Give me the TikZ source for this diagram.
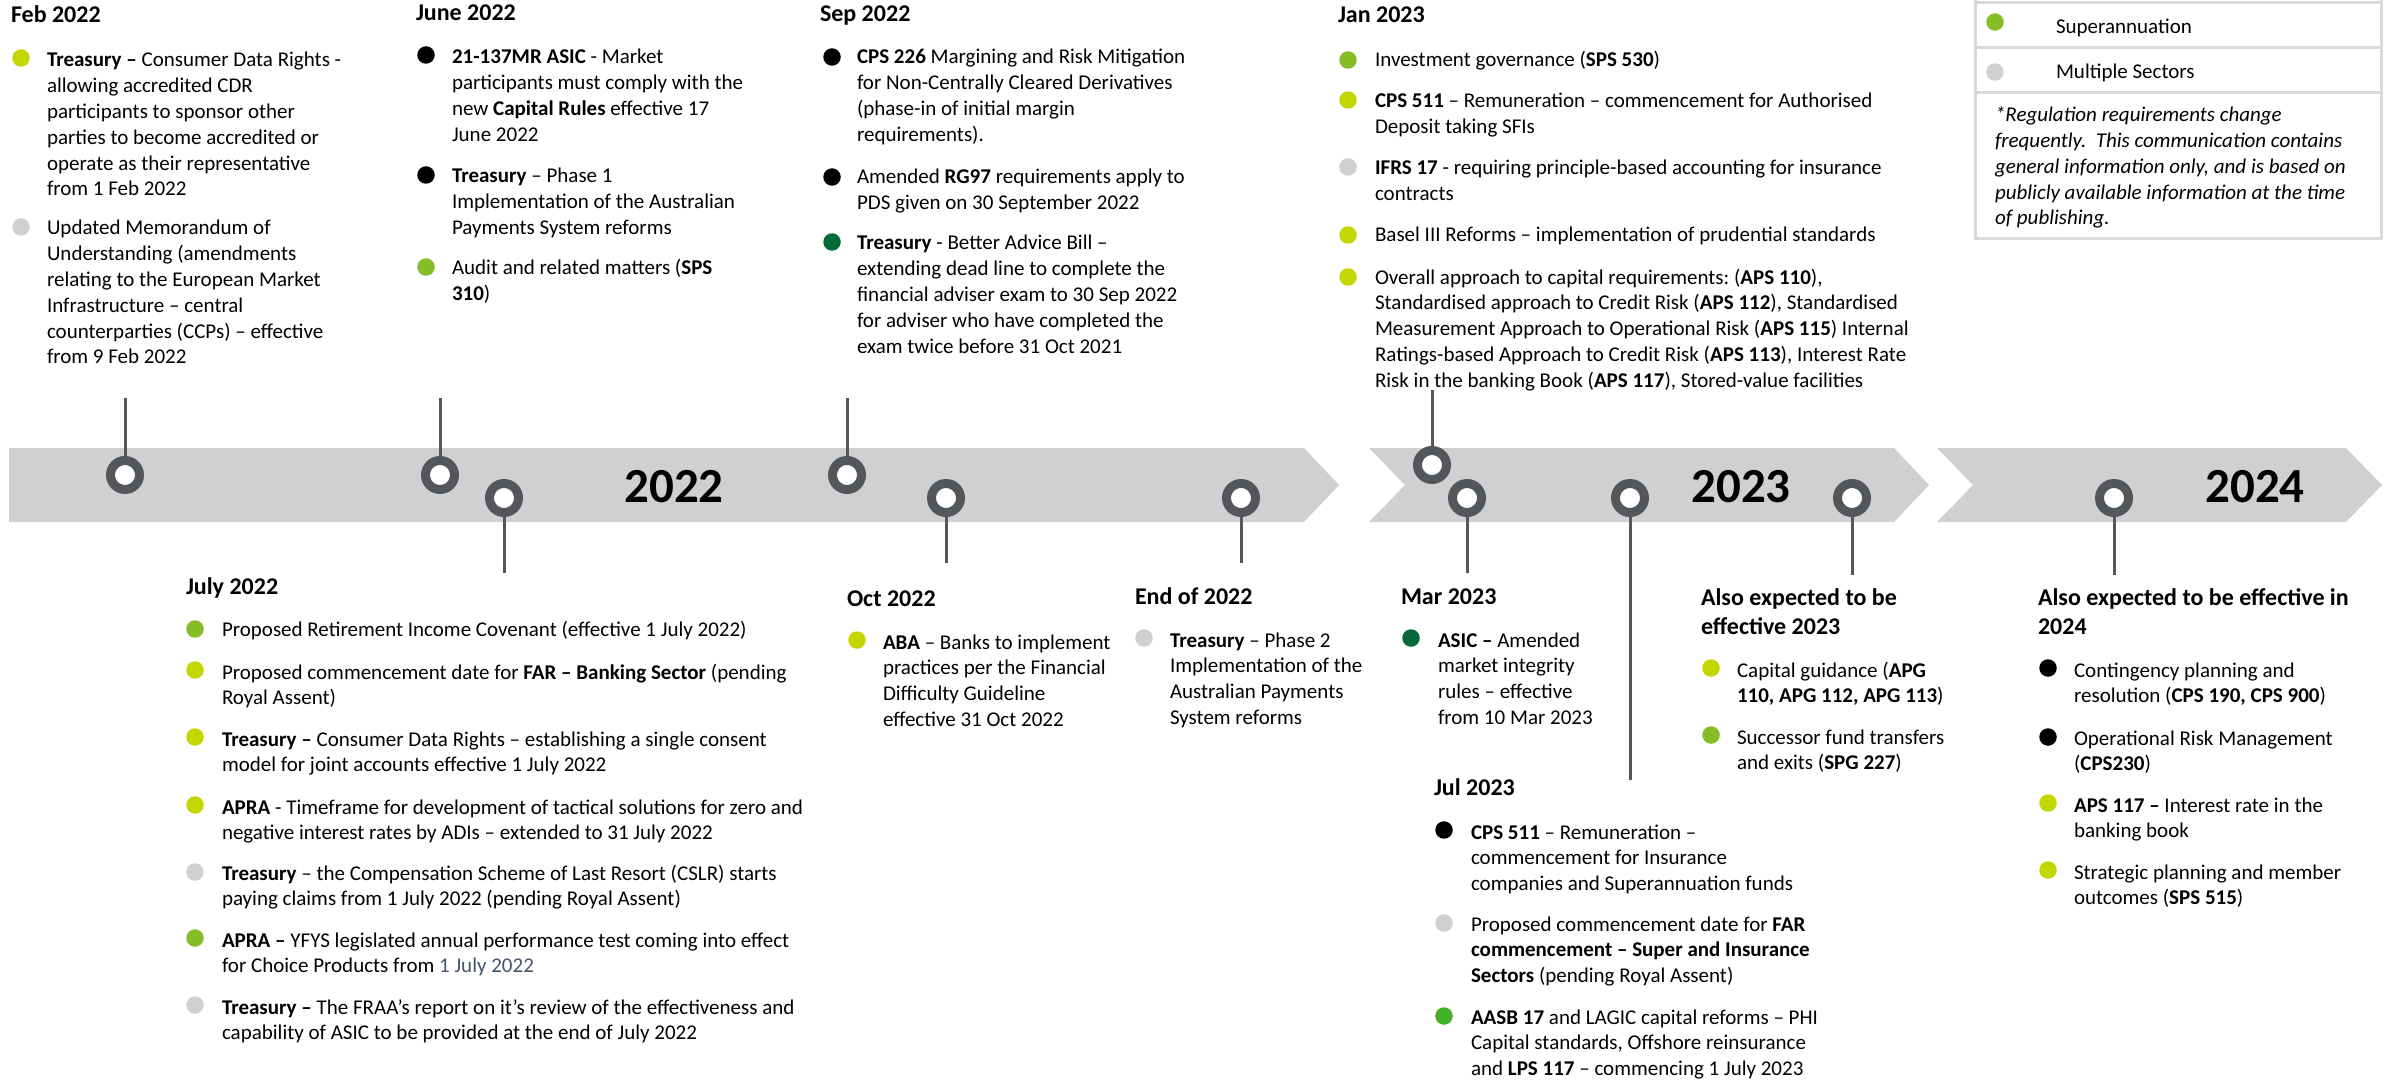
\documentclass[tikz,border=0pt]{standalone}
\usepackage{fontspec}
\setmainfont{Carlito}
\frenchspacing
\definecolor{cBank}{HTML}{C4D600}
\definecolor{cSuper}{HTML}{86BC25}
\definecolor{cMulti}{HTML}{D0D0D0}
\definecolor{cDark}{HTML}{046A38}
\definecolor{cAasb}{HTML}{43B02A}
\definecolor{cBlue}{HTML}{44546A}
\definecolor{cBand}{HTML}{D0D0D0}
\definecolor{cRing}{HTML}{53565A}
\definecolor{cLeg}{HTML}{D9D9D9}
\newcommand\blk[1]{\parbox[t]{900pt}{\raggedright\fontsize{21}{25.8}\selectfont #1}}
\newcommand\ttl[1]{\parbox[t]{900pt}{\raggedright\fontsize{24}{29}\selectfont\bfseries #1}}
\newcommand\ital[1]{\parbox[t]{900pt}{\raggedright\fontsize{21}{25.7}\selectfont\itshape #1}}
\begin{document}
\begin{tikzpicture}[x=1pt,y=-1pt,
  txt/.style={anchor=base west, inner sep=0pt, outer sep=0pt},
  yr/.style={inner sep=0pt, font=\fontsize{49}{55}\selectfont\bfseries},
  dotb/.style={circle, inner sep=0pt, minimum size=17.5pt, fill=#1},
  ring/.style={circle, draw=cRing, line width=9pt, fill=white, minimum size=29pt, inner sep=0pt},
  stem/.style={draw=cRing, line width=3pt},
  band/.style={fill=cBand},
  legline/.style={draw=cLeg, line width=3pt}]
\useasboundingbox (0,0) rectangle (2384,1083);
\clip (0,0) rectangle (2384,1083);
\fill[white] (0,0) rectangle (2384,1083);

% timeline bands
\fill[band] (9,448) -- (1304,448) -- (1339,485) -- (1304,522) -- (9,522) -- cycle;
\fill[band] (1369,448) -- (1894,448) -- (1929,485) -- (1894,522) -- (1369,522) -- (1405,485) -- cycle;
\fill[band] (1937,448) -- (2346,448) -- (2382,485) -- (2346,522) -- (1937,522) -- (1973,485) -- cycle;

% year labels
\node[yr] (y22) at (674,487) {2022};
\node[yr] (y23) at (1741,487) {2023};
\node[yr] (y24) at (2255,487) {2024};

% markers
\node[ring] (c1) at (125,475) {};
\node[ring] (c2) at (440,475) {};
\node[ring] (c3) at (504,498) {};
\node[ring] (c4) at (847,475) {};
\node[ring] (c5) at (946,498) {};
\node[ring] (c6) at (1241,498) {};
\node[ring] (c7) at (1432,465) {};
\node[ring] (c8) at (1467,498) {};
\node[ring] (c9) at (1630,498) {};
\node[ring] (c10) at (1852,498) {};
\node[ring] (c11) at (2114,498) {};
\coordinate (e1) at (125,398);
\coordinate (e2) at (440,398);
\coordinate (e3) at (504,573);
\coordinate (e4) at (847,398);
\coordinate (e5) at (946,563);
\coordinate (e6) at (1241,563);
\coordinate (e7) at (1432,390);
\coordinate (e8) at (1467,573);
\coordinate (e9) at (1630,780);
\coordinate (e10) at (1852,575);
\coordinate (e11) at (2114,575);
\foreach \i in {1,...,11} {\draw[stem] (c\i) -- (e\i);}

% Feb 2022
\node[txt] (febT) at (11,23) {\ttl{Feb 2022}};
\node[dotb=cBank] (febD1) at (21,58) {};
\node[txt] (febX1) at (47,67) {\blk{\textbf{Treasury –} Consumer Data Rights -\\allowing accredited CDR\\participants to sponsor other\\parties to become accredited or\\operate as their representative\\from 1 Feb 2022}};
\node[dotb=cMulti] (febD2) at (21,227) {};
\node[txt] (febX2) at (47,235) {\blk{Updated Memorandum of\\Understanding (amendments\\relating to the European Market\\Infrastructure – central\\counterparties (CCPs) – effective\\from 9 Feb 2022}};

% June 2022
\node[txt] (junT) at (416,21) {\ttl{June 2022}};
\node[dotb=black] (junD1) at (426,55) {};
\node[txt] (junX1) at (452,64) {\blk{\textbf{21-137MR ASIC} - Market\\participants must comply with the\\new \textbf{Capital Rules} effective 17\\June 2022}};
\node[dotb=black] (junD2) at (426,175) {};
\node[txt] (junX2) at (452,183) {\blk{\textbf{Treasury} – Phase 1\\Implementation of the Australian\\Payments System reforms}};
\node[dotb=cSuper] (junD3) at (426,267) {};
\node[txt] (junX3) at (452,275) {\blk{Audit and related matters (\textbf{SPS}\\\textbf{310})}};

% Sep 2022
\node[txt] (sepT) at (820,22) {\ttl{Sep 2022}};
\node[dotb=black] (sepD1) at (832,57) {};
\node[txt] (sepX1) at (857,64) {\blk{\textbf{CPS 226} Margining and Risk Mitigation\\for Non-Centrally Cleared Derivatives\\(phase-in of initial margin\\requirements).}};
\node[dotb=black] (sepD2) at (832,177) {};
\node[txt] (sepX2) at (857,184) {\blk{Amended \textbf{RG97} requirements apply to\\PDS given on 30 September 2022}};
\node[dotb=cDark] (sepD3) at (832,242) {};
\node[txt] (sepX3) at (857,250) {\blk{\textbf{Treasury} - Better Advice Bill –\\extending dead line to complete the\\financial adviser exam to 30 Sep 2022\\for adviser who have completed the\\exam twice before 31 Oct 2021}};

% Jan 2023
\node[txt] (janT) at (1338,23) {\ttl{Jan 2023}};
\node[dotb=cSuper] (janD1) at (1348,60) {};
\node[txt] (janX1) at (1375,67) {\blk{Investment governance (\textbf{SPS 530})}};
\node[dotb=cBank] (janD2) at (1348,100) {};
\node[txt] (janX2) at (1375,108) {\blk{\textbf{CPS 511} – Remuneration – commencement for Authorised\\Deposit taking SFIs}};
\node[dotb=cMulti] (janD3) at (1348,167) {};
\node[txt] (janX3) at (1375,175) {\blk{\textbf{IFRS 17} - requiring principle-based accounting for insurance\\contracts}};
\node[dotb=cBank] (janD4) at (1348,235) {};
\node[txt] (janX4) at (1375,242) {\blk{Basel III Reforms – implementation of prudential standards}};
\node[dotb=cBank] (janD5) at (1348,277) {};
\node[txt] (janX5) at (1375,284) {\blk{Overall approach to capital requirements: (\textbf{APS 110}),\\Standardised approach to Credit Risk (\textbf{APS 112}), Standardised\\Measurement Approach to Operational Risk (\textbf{APS 115}) Internal\\Ratings-based Approach to Credit Risk (\textbf{APS 113}), Interest Rate\\Risk in the banking Book (\textbf{APS 117}), Stored-value facilities}};

% July 2022
\node[txt] (julT) at (186,594) {\ttl{July 2022}};
\node[dotb=cSuper] (julD1) at (195,629) {};
\node[txt] (julX1) at (222,636) {\blk{Proposed Retirement Income Covenant (effective 1 July 2022)}};
\node[dotb=cBank] (julD2) at (195,670) {};
\node[txt] (julX2) at (222,679) {\blk{Proposed commencement date for \textbf{FAR – Banking Sector} (pending\\Royal Assent)}};
\node[dotb=cBank] (julD3) at (195,737) {};
\node[txt] (julX3) at (222,746) {\blk{\textbf{Treasury –} Consumer Data Rights – establishing a single consent\\model for joint accounts effective 1 July 2022}};
\node[dotb=cBank] (julD4) at (195,805) {};
\node[txt] (julX4) at (222,814) {\blk{\textbf{APRA} - Timeframe for development of tactical solutions for zero and\\negative interest rates by ADIs – extended to 31 July 2022}};
\node[dotb=cMulti] (julD5) at (195,872) {};
\node[txt] (julX5) at (222,880) {\blk{\textbf{Treasury} – the Compensation Scheme of Last Resort (CSLR) starts\\paying claims from 1 July 2022 (pending Royal Assent)}};
\node[dotb=cSuper] (julD6) at (195,938) {};
\node[txt] (julX6) at (222,947) {\blk{\textbf{APRA –} YFYS legislated annual performance test coming into effect\\for Choice Products from \textcolor{cBlue}{1 July 2022}}};
\node[dotb=cMulti] (julD7) at (195,1005) {};
\node[txt] (julX7) at (222,1014) {\blk{\textbf{Treasury –} The FRAA’s report on it’s review of the effectiveness and\\capability of ASIC to be provided at the end of July 2022}};

% Oct 2022
\node[txt] (octT) at (847,606) {\ttl{Oct 2022}};
\node[dotb=cBank] (octD1) at (857,640) {};
\node[txt] (octX1) at (883,649) {\blk{\textbf{ABA} – Banks to implement\\practices per the Financial\\Difficulty Guideline\\effective 31 Oct 2022}};

% End of 2022
\node[txt] (endT) at (1135,604) {\ttl{End of 2022}};
\node[dotb=cMulti] (endD1) at (1144,638) {};
\node[txt] (endX1) at (1170,647) {\blk{\textbf{Treasury} – Phase 2\\Implementation of the\\Australian Payments\\System reforms}};

% Mar 2023
\node[txt] (marT) at (1401,604) {\ttl{Mar 2023}};
\node[dotb=cDark] (marD1) at (1411,638) {};
\node[txt] (marX1) at (1438,647) {\blk{\textbf{ASIC –} Amended\\market integrity\\rules – effective\\from 10 Mar 2023}};

% Jul 2023
\node[txt] (jlT) at (1434,795) {\ttl{Jul 2023}};
\node[dotb=black] (jlD1) at (1444,830) {};
\node[txt] (jlX1) at (1471,839) {\blk{\textbf{CPS 511} – Remuneration –\\commencement for Insurance\\companies and Superannuation funds}};
\node[dotb=cMulti] (jlD2) at (1444,923) {};
\node[txt] (jlX2) at (1471,931) {\blk{Proposed commencement date for \textbf{FAR}\\\textbf{commencement – Super and Insurance}\\\textbf{Sectors} (pending Royal Assent)}};
\node[dotb=cAasb] (jlD3) at (1444,1016) {};
\node[txt] (jlX3) at (1471,1024) {\blk{\textbf{AASB 17} and LAGIC capital reforms – PHI\\Capital standards, Offshore reinsurance\\and \textbf{LPS 117} – commencing 1 July 2023}};

% Also expected 2023
\node[txt] (a3T) at (1701,605) {\ttl{Also expected to be\\effective 2023}};
\node[dotb=cBank] (a3D1) at (1711,668) {};
\node[txt] (a3X1) at (1737,677) {\blk{Capital guidance (\textbf{APG}\\\textbf{110, APG 112, APG 113})}};
\node[dotb=cSuper] (a3D2) at (1711,735) {};
\node[txt] (a3X2) at (1737,744) {\blk{Successor fund transfers\\and exits (\textbf{SPG 227})}};

% Also expected 2024
\node[txt] (a4T) at (2038,605) {\ttl{Also expected to be effective in\\2024}};
\node[dotb=black] (a4D1) at (2048,668) {};
\node[txt] (a4X1) at (2074,677) {\blk{Contingency planning and\\resolution (\textbf{CPS 190, CPS 900})}};
\node[dotb=black] (a4D2) at (2048,737) {};
\node[txt] (a4X2) at (2074,745) {\blk{Operational Risk Management\\(\textbf{CPS230})}};
\node[dotb=cBank] (a4D3) at (2048,803) {};
\node[txt] (a4X3) at (2074,812) {\blk{\textbf{APS 117 –} Interest rate in the\\banking book}};
\node[dotb=cBank] (a4D4) at (2048,870) {};
\node[txt] (a4X4) at (2074,879) {\blk{Strategic planning and member\\outcomes (\textbf{SPS 515})}};

% legend
\draw[legline] (1975,-20) -- (1975,239) -- (2381,239) -- (2381,-20);
\draw[legline] (1975,3) -- (2381,3);
\draw[legline] (1975,48) -- (2381,48);
\draw[legline] (1975,93) -- (2381,93);
\node[dotb=cSuper] (lgD1) at (1995,22) {};
\node[txt] (lgX1) at (2056,34) {\blk{Superannuation}};
\node[dotb=cMulti] (lgD2) at (1995,72) {};
\node[txt] (lgX2) at (2056,79) {\blk{Multiple Sectors}};
\node[txt] (lgN) at (1995,122) {\ital{*Regulation requirements change\\frequently.\ \ This communication contains\\general information only, and is based on\\publicly available information at the time\\of publishing.}};
\end{tikzpicture}
\end{document}
